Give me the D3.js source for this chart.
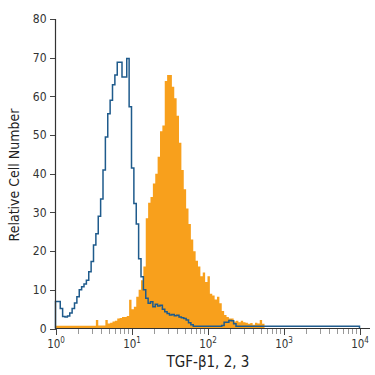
<!DOCTYPE html>
<html lang="en">
    <head>
        <meta charset="utf-8">
        <title>TGF-beta histogram</title>
        <script type="text/javascript" src="https://cdn.jsdelivr.net/npm/d3@7"></script>
        <style>
            body { margin: 0; background: white; }
            .axis text {
                font-family: "DejaVu Sans", sans-serif;
                font-stretch: condensed;
                font-size: 11px;
                fill: #333;
            }
            .axis line { stroke: #444; shape-rendering: crispEdges; }
            .minor line { stroke: #999; }
            .title {
                font-family: "DejaVu Sans", sans-serif;
                font-stretch: condensed;
                fill: #222;
            }
        </style>
    </head>
    <body>
        <script type="text/javascript">
            // histogram channels: 32 bins per decade starting at 10^0
            var binsPerDecade = 32;

            // isotype control (blue outline), counts per bin from 10^0
            var controlCounts = [
                7, 7, 5.2, 3.1, 3.0, 3.2, 4.0, 5.2, 6.6, 8.2,
                10, 10.8, 11.5, 12.5, 14.7, 17.3, 21.6, 24.5, 29, 33.5,
                41, 49.5, 55.5, 59, 63, 65.5, 68.8, 68.8, 65, 65,
                69.8, 57.3, 41.5, 32.3, 27, 18, 13.4, 10, 7.8, 6.5,
                6.9, 5.6, 6.3, 5.8, 6.0, 5.0, 4.3, 3.9, 3.5, 3.6,
                3.3, 3.4, 3.0, 2.8, 2.6, 2.2, 1.5, 1.0, 0.6, 0.6,
                0.6, 0.6, 0.6, 0.6, 0.6, 0.6, 0.6, 0.6, 0.6, 0.6,
                0.8, 1.6, 1.6, 2.1, 2.0, 1.2
            ];
            // flat remainder of the control out to the top channel
            var controlTailLevel = 0.6;
            var controlTailEnd = 10000;

            // stained sample (orange fill), counts per bin from 10^0
            var stainedCounts = [
                0.7, 0.7, 0.7, 0.7, 0.7, 0.7, 0.7, 0.7, 0.7, 0.7,
                0.7, 0.7, 0.7, 0.7, 0.7, 0.7, 0.7, 2.2, 0.8, 0.8,
                0.8, 2.2, 1.3, 1.5, 1.8, 2.0, 2.6, 2.7, 3.0, 3.0,
                3.2, 7.4, 5.0, 5.6, 8.2, 10, 12.5, 16, 28.5, 32.5,
                34, 37.5, 40, 44.4, 51, 52.5, 64, 65.5, 65.5, 62.5,
                59.5, 55, 48, 41, 36, 31, 27, 23, 20, 17.5,
                16, 13.5, 14.5, 12, 13.5, 9, 8.5, 7.5, 8.2, 6.5,
                4.5, 3.5, 3.0, 2.6, 2.6, 1.8, 2.0, 1.6, 2.0, 1.6,
                1.5, 1.2, 1.4, 1.0, 1.5, 1.3, 2.2, 1.2
            ];

            var yTicks = [0, 10, 20, 30, 40, 50, 60, 70, 80];
            var xMajor = [1, 10, 100, 1000, 10000];
            var xMinorMult = [2, 3, 4, 5, 6, 7, 8, 9];

            var w = 375, h = 375;
            var svg = d3.select("body").append("svg").attr("width", w).attr("height", h);

            var xScale = d3.scaleLog().domain([1, 10000]).range([55.5, 359.5]);
            var yScale = d3.scaleLinear().domain([0, 80]).range([328.5, 19]);

            function binStart(i) { return Math.pow(10, i / binsPerDecade); }

            // orange filled histogram
            var stainedPts = stainedCounts.map(function(d, i) { return [binStart(i), d]; });
            stainedPts.push([binStart(stainedCounts.length), 0]);
            var area = d3.area()
                .curve(d3.curveStepAfter)
                .x(function(d) { return xScale(d[0]); })
                .y0(yScale(0))
                .y1(function(d) { return yScale(d[1]); });
            svg.append("path").datum(stainedPts)
                .attr("d", area)
                .attr("fill", "#f8a01c");

            // blue outline histogram
            var controlPts = [[1, 0]];
            controlCounts.forEach(function(d, i) { controlPts.push([binStart(i), d]); });
            controlPts.push([binStart(controlCounts.length), controlTailLevel]);
            controlPts.push([controlTailEnd, 0]);
            var line = d3.line()
                .curve(d3.curveStepAfter)
                .x(function(d) { return xScale(d[0]); })
                .y(function(d) { return yScale(d[1]); });
            svg.append("path").datum(controlPts)
                .attr("d", line)
                .attr("fill", "none")
                .attr("stroke", "#1f5b8c")
                .attr("stroke-width", 1.5)
                .attr("stroke-linejoin", "miter");

            // y axis
            var yAxis = d3.axisLeft(yScale).tickValues(yTicks).tickSize(6).tickSizeOuter(0).tickPadding(3);
            var gy = svg.append("g").attr("class", "y axis")
                .attr("transform", "translate(55.5,0)")
                .call(yAxis);
            gy.select(".domain").remove();
            gy.selectAll("text").style("font-size", "12px");

            // x minor ticks
            var minorVals = [];
            xMajor.slice(0, -1).forEach(function(m) {
                xMinorMult.forEach(function(k) { minorVals.push(m * k); });
            });
            var gxm = svg.append("g").attr("class", "x axis minor")
                .attr("transform", "translate(0,328.5)")
                .call(d3.axisBottom(xScale).tickValues(minorVals).tickSize(5).tickFormat(""));
            gxm.select(".domain").remove();

            // x major ticks with superscript labels
            var gx = svg.append("g").attr("class", "x axis")
                .attr("transform", "translate(0,328.5)")
                .call(d3.axisBottom(xScale).tickValues(xMajor).tickSize(6).tickFormat(""));
            gx.select(".domain").remove();
            gx.selectAll(".tick").append("text")
                .attr("y", 19)
                .attr("fill", "#333")
                .attr("text-anchor", "middle")
                .style("font-size", "11.5px")
                .each(function(d) {
                    var t = d3.select(this);
                    t.append("tspan").text("10");
                    t.append("tspan").attr("dy", -5).style("font-size", "8px")
                        .text(Math.round(Math.log10(d)));
                });

            // axis lines
            svg.append("line")
                .attr("x1", 55.5).attr("x2", 370)
                .attr("y1", 328.5).attr("y2", 328.5)
                .attr("stroke", "#333").attr("stroke-width", 1.2);
            svg.append("line")
                .attr("x1", 55.5).attr("x2", 55.5)
                .attr("y1", 19).attr("y2", 329)
                .attr("stroke", "#333").attr("stroke-width", 1.2);

            // titles
            svg.append("text").attr("class", "title")
                .attr("x", 208).attr("y", 367)
                .attr("text-anchor", "middle")
                .style("font-size", "15px")
                .text("TGF-\u03b21, 2, 3");
            svg.append("text").attr("class", "title")
                .attr("transform", "translate(19,175) rotate(-90)")
                .attr("text-anchor", "middle")
                .style("font-size", "14px")
                .text("Relative Cell Number");
        </script>
    </body>
</html>
